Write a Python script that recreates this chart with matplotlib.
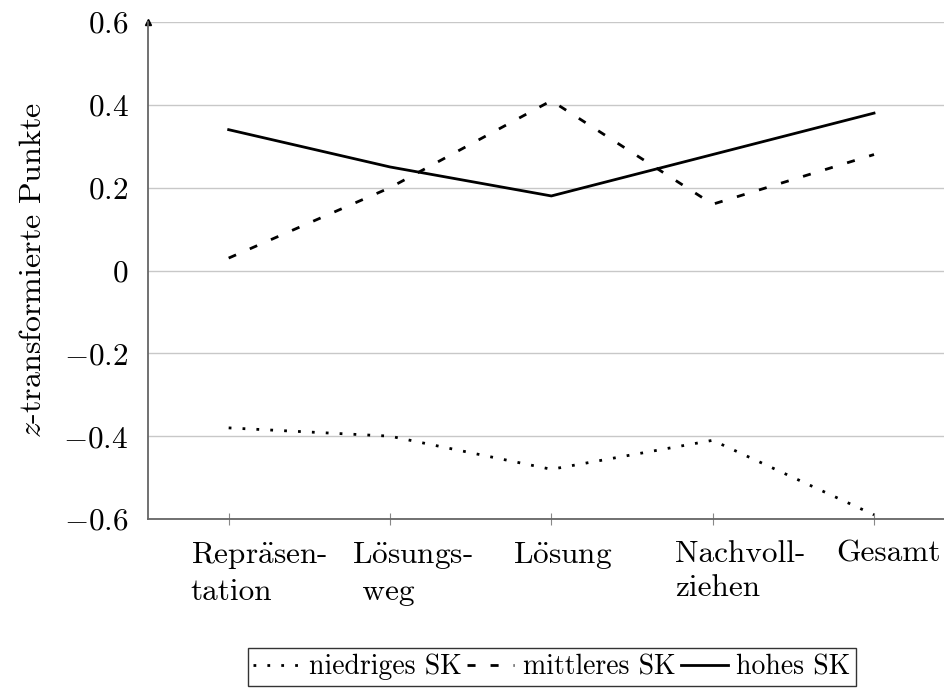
import matplotlib
matplotlib.use("Agg")
import matplotlib.pyplot as plt
from matplotlib.transforms import blended_transform_factory

categories = ["Repr$\\ddot{\\mathrm{a}}$sen-\ntation", "L$\\ddot{\\mathrm{o}}$sungs-\n weg",
              "L$\\ddot{\\mathrm{o}}$sung", "Nachvoll-\nziehen", "Gesamt"]
niedrig = [-0.38, -0.40, -0.48, -0.41, -0.59]
mittel = [0.03, 0.20, 0.41, 0.16, 0.28]
hoch = [0.34, 0.25, 0.18, 0.28, 0.38]
yticks = [-0.6, -0.4, -0.2, 0, 0.2, 0.4, 0.6]
ytick_labels = [r"$-0.6$", r"$-0.4$", r"$-0.2$", r"$0$", r"$0.2$", r"$0.4$", r"$0.6$"]

plt.rcParams["mathtext.fontset"] = "cm"
plt.rcParams["font.family"] = ["cmr10", "DejaVu Serif"]
plt.rcParams["axes.unicode_minus"] = False

fig = plt.figure(figsize=(9.45, 6.88), dpi=100)
ax = fig.add_axes([148/945, 1-519/688, 1-148/945, (519-22)/688])

x = list(range(len(categories)))
ax.plot(x, niedrig, color="black", lw=2.0, linestyle=(0, (1, 4)), label="niedriges SK")
ax.plot(x, mittel, color="black", lw=2.0, linestyle=(0, (2.9, 5.4)), label="mittleres SK")
ax.plot(x, hoch, color="black", lw=2.0, linestyle="-", label="hohes SK")

ax.set_xlim(-0.5, 4.44)
ax.set_ylim(-0.6, 0.6)
ax.set_yticks(yticks)
ax.set_yticklabels(ytick_labels, fontsize=22.5)
ax.set_xticks(x)
ax.set_xticklabels([""] * len(categories))

trans = blended_transform_factory(ax.transData, ax.transAxes)
for i, lab in enumerate(categories):
    ax.annotate(lab, xy=(i, 0), xycoords=trans, xytext=(-38, -21),
                textcoords="offset pixels", ha="left", va="top",
                fontsize=22.5, linespacing=1.3, annotation_clip=False)

ax.yaxis.grid(True, color="#c8c8c8", lw=1.0)
ax.set_axisbelow(True)
for s in ["top", "right"]:
    ax.spines[s].set_visible(False)
for s in ["left", "bottom"]:
    ax.spines[s].set_color("#666666")
    ax.spines[s].set_linewidth(1.3)
ax.tick_params(axis="x", direction="inout", length=9, width=0.8, color="#888888", pad=12)
ax.tick_params(axis="y", direction="in", length=0, pad=14)
ax.set_ylabel(r"$z$-transformierte Punkte", fontsize=23, labelpad=12)

ax.plot([0], [1], marker="^", transform=ax.transAxes, clip_on=False,
        color="black", ms=5)

leg = fig.legend(loc="center", bbox_to_anchor=(552/945, 1-667/688), ncol=3,
                 fontsize=20, frameon=True, fancybox=False, edgecolor="black",
                 handlelength=1.7, handletextpad=0.3, columnspacing=0.2,
                 borderpad=0.2, borderaxespad=0)
leg.get_frame().set_linewidth(1.0)

fig.savefig("out.png", dpi=100)
